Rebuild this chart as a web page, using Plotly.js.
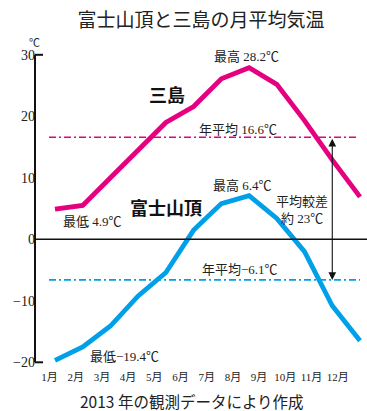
<!DOCTYPE html>
<html>
<head>
<meta charset="utf-8">
<script src="https://cdn.plot.ly/plotly-3.0.1.min.js"></script>
<style>
html,body{margin:0;padding:0;background:#fff;}
#chart{width:367px;height:411px;}
</style>
</head>
<body>
<div id="chart"></div>
<script>
// ---- data ----
const months = ["1月","2月","3月","4月","5月","6月","7月","8月","9月","10月","11月","12月"];
const mishima = [4.9, 5.5, 10.0, 14.5, 19.0, 21.6, 26.1, 27.9, 25.2, 19.3, 12.9, 6.9];
const fuji = [-19.7, -17.5, -14.1, -9.2, -5.4, 1.5, 5.8, 7.1, 3.4, -2.0, -10.8, -16.5];
const mishimaMean = 16.6;
const fujiMean = -6.6;
const yTicks = [30, 20, 10, 0, -10, -20];
const yTickText = ["30", "20", "10", "0", "−10", "−20"];

const PINK = "#E4007F";
const BLUE = "#00A0E9";
const SERIF = "'Liberation Serif', 'Noto Sans CJK JP', serif";
const GOTH = "'Noto Sans CJK JP', 'Noto Sans', sans-serif";

const W = 367, H = 411;
// layout geometry (pixels)
const xPx0 = 55, xStep = 27.727;       // data index -> px
const yZeroPx = 239.3, yStep = 6.15;   // value -> px
const axisPx = 35;
const labPx0 = 49.5, labStep = 26.2;

const idx = months.map((m, i) => i);
const xr0 = -xPx0 / xStep, xr1 = xr0 + W / xStep;
const yr1 = yZeroPx / yStep, yr0 = yr1 - H / yStep;
const x2r0 = -labPx0 / labStep, x2r1 = x2r0 + W / labStep;
const axisPaper = axisPx / W;

const traces = [
  {x: idx, y: mishima, type: "scatter", mode: "lines",
   line: {color: PINK, width: 4.8}, hoverinfo: "skip"},
  {x: idx, y: fuji, type: "scatter", mode: "lines",
   line: {color: BLUE, width: 4.8}, hoverinfo: "skip"},
  {x: months, y: months.map(() => null), xaxis: "x2", type: "scatter",
   mode: "lines", showlegend: false, hoverinfo: "skip"}
];

function ann(text, x, y, opts) {
  return Object.assign({text: text, x: x, y: y, xref: "x", yref: "y",
    showarrow: false, xanchor: "center", yanchor: "middle",
    font: {family: SERIF, size: 13, color: "#222"}}, opts || {});
}

const layout = {
  width: W, height: H,
  margin: {l: 0, r: 0, t: 0, b: 0},
  paper_bgcolor: "#fff", plot_bgcolor: "rgba(0,0,0,0)",
  showlegend: false,
  title: {text: "富士山頂と三島の月平均気温", x: 201 / W, xanchor: "center",
          y: 1 - 20 / H, yanchor: "middle", xref: "paper", yref: "paper",
          font: {family: GOTH, size: 19, color: "#222"}},
  xaxis: {range: [xr0, xr1], visible: false, fixedrange: true},
  xaxis2: {type: "category", range: [x2r0, x2r1], anchor: "free",
           position: (H - 369) / H, overlaying: "x", showline: false,
           showgrid: false, zeroline: false, ticks: "",
           tickfont: {family: SERIF, size: 11, color: "#222"}},
  yaxis: {range: [yr0, yr1], anchor: "free", position: axisPaper,
          tickvals: yTicks, ticktext: yTickText, ticks: "",
          showgrid: false, zeroline: false, showline: false,
          tickfont: {family: SERIF, size: 14, color: "#222"}, fixedrange: true},
  shapes: [
    // y axis line and end ticks
    {type: "line", xref: "paper", yref: "y", x0: axisPaper, x1: axisPaper,
     y0: yTicks[yTicks.length - 1], y1: yTicks[0], line: {color: "#111", width: 2}},
    {type: "line", xref: "paper", yref: "y", x0: axisPaper, x1: axisPaper + 8 / W,
     y0: yTicks[0], y1: yTicks[0], line: {color: "#111", width: 2}},
    {type: "line", xref: "paper", yref: "y", x0: axisPaper, x1: axisPaper + 8 / W,
     y0: yTicks[yTicks.length - 1], y1: yTicks[yTicks.length - 1], line: {color: "#111", width: 2}},
    // zero line
    {type: "line", xref: "paper", yref: "y", x0: axisPaper, x1: 1, y0: 0, y1: 0,
     line: {color: "#111", width: 1.5}},
    // mean lines
    {type: "line", xref: "paper", yref: "y", x0: 49 / W, x1: 357 / W,
     y0: mishimaMean, y1: mishimaMean, line: {color: PINK, width: 1.6, dash: "7px,3px,2px,3px"}},
    {type: "line", xref: "paper", yref: "y", x0: 49 / W, x1: 360 / W,
     y0: fujiMean, y1: fujiMean, line: {color: BLUE, width: 1.6, dash: "7px,3px,2px,3px"}}
  ],
  annotations: [
    // double-headed arrow
    {x: 10, y: fujiMean, ax: 10, ay: mishimaMean, axref: "x", ayref: "y",
     xref: "x", yref: "y", text: "", showarrow: true, arrowside: "end+start",
     arrowhead: 2, arrowsize: 1.4, arrowwidth: 1.1, arrowcolor: "#111",
     standoff: 0, startstandoff: 0},
    ann("最高 28.2℃", 6.92, 29.8),
    ann("年平均 16.6℃", 6.6, 17.8),
    ann("最高 6.4℃", 6.78, 8.83),
    ann("最低 4.9℃", 1.37, 2.86),
    ann("最低−19.4℃", 2.52, -18.98),
    ann("年平均−6.1℃", 6.67, -4.83),
    ann("平均較差<br>約 23℃", 8.91, 4.74),
    ann("<b>三島</b>", 4.04, 23.7, {font: {family: GOTH, size: 18, color: "#111"}}),
    ann("<b>富士山頂</b>", 4.0, 5.3, {font: {family: GOTH, size: 18, color: "#111"}}),
    {text: "℃", xref: "paper", yref: "paper", x: 34 / W, y: 1 - 43 / H,
     showarrow: false, xanchor: "center", yanchor: "middle",
     font: {family: SERIF, size: 11, color: "#222"}},
    {text: "2013 年の観測データにより作成", xref: "paper", yref: "paper",
     x: 192 / W, y: 1 - 401 / H, showarrow: false, xanchor: "center", yanchor: "middle",
     borderpad: 0,
     font: {family: GOTH, size: 15.5, color: "#222"}}
  ]
};

Plotly.newPlot("chart", traces, layout, {staticPlot: true, displayModeBar: false});
</script>
</body>
</html>
